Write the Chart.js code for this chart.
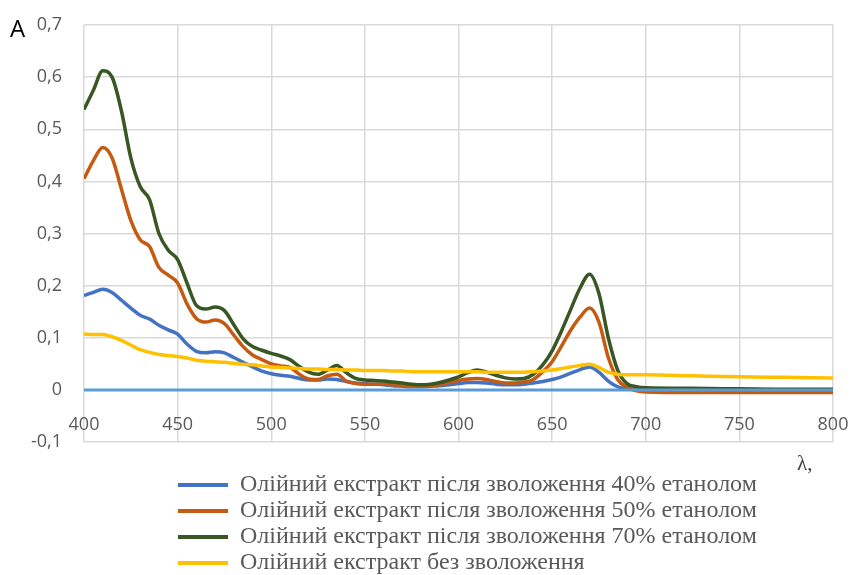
<!DOCTYPE html>
<html>
<head>
<meta charset="utf-8">
<script src="https://cdn.jsdelivr.net/npm/chart.js@4"></script>
<style>
  html, body { margin: 0; padding: 0; background: #fff; }
  #wrap { width: 852px; height: 575px; }
</style>
</head>
<body>
<div id="wrap"><canvas id="spectra"></canvas></div>
<script>
// Wavelengths, nm
const wavelengths = [
    400, 405, 410, 415, 420, 425, 430, 435, 440, 445,
    450, 455, 460, 465, 470, 475, 480, 485, 490, 495,
    500, 505, 510, 515, 520, 525, 530, 535, 540, 545,
    550, 555, 560, 565, 570, 575, 580, 585, 590, 595,
    600, 605, 610, 615, 620, 625, 630, 635, 640, 645,
    650, 655, 660, 665, 670, 675, 680, 685, 690, 695,
    700, 725, 750, 775, 800
];

// Absorbance per series
const ethanol40 = [
    0.181, 0.187, 0.193, 0.187, 0.172, 0.157, 0.143, 0.136, 0.124, 0.115,
    0.107, 0.088, 0.074, 0.071, 0.073, 0.071, 0.062, 0.053, 0.044, 0.036,
    0.031, 0.028, 0.026, 0.022, 0.019, 0.019, 0.021, 0.020, 0.016, 0.013,
    0.012, 0.011, 0.010, 0.008, 0.007, 0.006, 0.006, 0.007, 0.008, 0.010,
    0.012, 0.014, 0.014, 0.013, 0.011, 0.010, 0.010, 0.011, 0.013, 0.016,
    0.020, 0.025, 0.032, 0.039, 0.044, 0.034, 0.017, 0.006, 0.002, 0.001,
    0.001, 0.001, 0.001, 0.000, 0.000
];
const ethanol50 = [
    0.405, 0.440, 0.465, 0.445, 0.385, 0.325, 0.288, 0.275, 0.235, 0.220,
    0.205, 0.165, 0.137, 0.130, 0.134, 0.127, 0.105, 0.083, 0.067, 0.058,
    0.050, 0.046, 0.043, 0.030, 0.021, 0.020, 0.027, 0.030, 0.017, 0.012,
    0.011, 0.011, 0.011, 0.010, 0.009, 0.008, 0.007, 0.008, 0.010, 0.014,
    0.018, 0.021, 0.022, 0.020, 0.016, 0.013, 0.013, 0.015, 0.020, 0.035,
    0.054, 0.084, 0.115, 0.140, 0.157, 0.130, 0.062, 0.020, 0.005, -0.002,
    -0.004, -0.005, -0.005, -0.005, -0.005
];
const ethanol70 = [
    0.538, 0.575, 0.612, 0.600, 0.535, 0.445, 0.390, 0.365, 0.300, 0.268,
    0.250, 0.205, 0.162, 0.155, 0.159, 0.152, 0.125, 0.098, 0.083, 0.076,
    0.070, 0.065, 0.058, 0.045, 0.034, 0.030, 0.038, 0.047, 0.033, 0.022,
    0.019, 0.018, 0.017, 0.015, 0.013, 0.011, 0.010, 0.011, 0.014, 0.019,
    0.025, 0.033, 0.038, 0.034, 0.028, 0.023, 0.021, 0.022, 0.030, 0.048,
    0.075, 0.113, 0.155, 0.196, 0.222, 0.185, 0.100, 0.038, 0.012, 0.006,
    0.004, 0.003, 0.002, 0.001, 0.001
];
const noMoisture = [
    0.107, 0.106, 0.106, 0.102, 0.095, 0.086, 0.077, 0.072, 0.068, 0.066,
    0.064, 0.061, 0.057, 0.055, 0.054, 0.053, 0.051, 0.049, 0.048, 0.046,
    0.044, 0.043, 0.042, 0.041, 0.040, 0.040, 0.039, 0.039, 0.038, 0.038,
    0.037, 0.037, 0.037, 0.036, 0.036, 0.035, 0.035, 0.035, 0.035, 0.035,
    0.035, 0.035, 0.035, 0.034, 0.034, 0.034, 0.034, 0.034, 0.035, 0.036,
    0.038, 0.041, 0.044, 0.047, 0.049, 0.043, 0.034, 0.030, 0.029, 0.029,
    0.029, 0.027, 0.025, 0.024, 0.023
];
// flat reference line (no legend entry)
const baselineX = [400, 800];
const baselineY = [0, 0];

const seriesNames = [
    "Олійний екстракт після зволоження 40% етанолом",
    "Олійний екстракт після зволоження 50% етанолом",
    "Олійний екстракт після зволоження 70% етанолом",
    "Олійний екстракт без зволоження"
];
const seriesColors = ["#4472C4", "#C55A11", "#385723", "#FFC000"];

// Functions
function toPoints(xs, ys) {
    return xs.map((x, i) => ({x: x, y: ys[i]}));
}

function makeLine(i, values) {
    return {
        label: seriesNames[i],
        data: toPoints(wavelengths, values),
        borderColor: seriesColors[i],
        backgroundColor: seriesColors[i],
        borderWidth: 3.5,
        pointRadius: 0,
        cubicInterpolationMode: 'monotone',
        order: 10 - i
    };
}

const axisTitles = {
    id: 'axisTitles',
    beforeDraw(chart) {
        // legend rows sit left-aligned under the plot
        const lg = chart.legend;
        lg.left = 176;
        lg.top = 471;
        lg.bottom = 575;
    },
    afterDraw(chart) {
        const ctx = chart.ctx;
        ctx.save();
        ctx.fillStyle = '#000000';
        ctx.font = '24px "Open Sans"';
        ctx.textBaseline = 'alphabetic';
        ctx.fillText('A', 10, 37);
        ctx.fillStyle = '#404040';
        ctx.font = '21px "Liberation Serif"';
        ctx.fillText('λ,', 797, 470);
        ctx.restore();
    }
};

const datasets = [
    makeLine(0, ethanol40),
    makeLine(1, ethanol50),
    makeLine(2, ethanol70),
    makeLine(3, noMoisture),
    {
        label: '',
        data: toPoints(baselineX, baselineY),
        borderColor: '#5B9BD5',
        borderWidth: 3,
        pointRadius: 0,
        order: 0
    }
];

const chart = new Chart(
    document.getElementById("spectra"),
    {
        type: 'line',
        data: { datasets },
        plugins: [axisTitles],
        options: {
            responsive: true,
            maintainAspectRatio: false,
            animation: false,
            layout: { padding: { top: 25, right: 19, left: 0, bottom: 19 } },
            scales: {
                x: {
                    type: 'linear',
                    min: 400,
                    max: 800,
                    // labels hang under the zero line, as in Excel
                    position: { y: 0 },
                    afterFit: (scale) => { scale.paddingLeft = 0; scale.paddingRight = 0; },
                    border: { display: false },
                    grid: { color: '#D9D9D9', lineWidth: 1.5, drawTicks: false },
                    ticks: {
                        stepSize: 50,
                        padding: 24,
                        color: '#595959',
                        font: { family: 'Open Sans', size: 18 }
                    }
                },
                y: {
                    min: -0.1,
                    max: 0.7,
                    afterFit: (scale) => {
                        scale.width = 84;
                        scale.paddingTop = 0;
                        scale.paddingBottom = 0;
                    },
                    border: { display: false },
                    grid: { color: '#D9D9D9', lineWidth: 1.5, drawTicks: false },
                    ticks: {
                        stepSize: 0.1,
                        padding: 22,
                        color: '#595959',
                        font: { family: 'Open Sans', size: 18 },
                        callback: (v) => Math.abs(v) < 1e-9 ? '0' : v.toFixed(1).replace('.', ',')
                    }
                }
            },
            plugins: {
                tooltip: { enabled: false },
                legend: {
                    position: 'bottom',
                    align: 'start',
                    labels: {
                        boxWidth: 50,
                        boxHeight: 4,
                        padding: 2,
                        color: '#595959',
                        font: { family: 'Liberation Serif', size: 24 },
                        generateLabels(chart) {
                            const items = Chart.defaults.plugins.legend.labels.generateLabels(chart);
                            return items
                                .filter(it => it.datasetIndex < 4)
                                .sort((a, b) => a.datasetIndex - b.datasetIndex)
                                .map(it => Object.assign(it, { lineWidth: 0, fillStyle: it.strokeStyle }));
                        }
                    }
                }
            }
        }
    }
);
</script>
</body>
</html>
